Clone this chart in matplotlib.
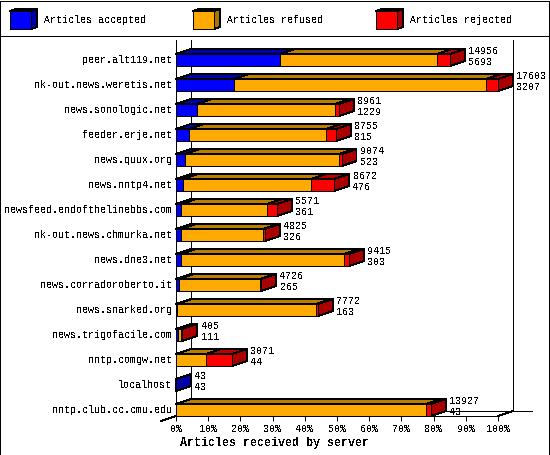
"""Articles received by server: stacked 3D-looking bars, innreport style."""

import matplotlib
matplotlib.use("Agg")
import matplotlib.pyplot as plt
from matplotlib.patches import Polygon, Rectangle

servers = ["peer.alt119.net", "nk-out.news.weretis.net", "news.sonologic.net",
           "feeder.erje.net", "news.quux.org", "news.nntp4.net",
           "newsfeed.endofthelinebbs.com", "nk-out.news.chmurka.net", "news.dne3.net",
           "news.corradoroberto.it", "news.snarked.org", "news.trigofacile.com",
           "nntp.comgw.net", "localhost", "nntp.club.cc.cmu.edu"]
# percentages
accepted = [32.3, 18.0, 6.6, 4.1, 2.7, 2.3, 1.7, 1.5, 1.5, 1.0, 0.4, 0.5, 0, 0.1, 0]
refused = [48.9, 78.2, 42.8, 42.5, 47.9, 39.6, 26.5, 25.6, 50.7, 25.0, 43.1, 1.4, 9.3, 0, 77.5]
rejected = [3.8, 3.8, 1.3, 3.1, 0.8, 7.3, 3.1, 0.4, 1.4, 0.5, 0.5, 0.1, 8.1, 0, 1.6]
total_labels = ["14956", "17603", "8961", "8755", "9074", "8672", "5571", "4825",
                "9415", "4726", "7772", "405", "3071", "43", "13927"]
second_labels = ["5693", "3207", "1229", "815", "523", "476", "361", "326",
                 "303", "265", "163", "111", "44", "43", "43"]
percent_ticks = [0, 10, 20, 30, 40, 50, 60, 70, 80, 90, 100]
legend_names = ["Articles accepted", "Articles refused", "Articles rejected"]

# front, top, side
BLUE = ("#0000ff", "#0000b4", "#0000aa")
ORANGE = ("#ffaa00", "#bb7f00", "#aa7400")
RED = ("#ff0000", "#bb0000", "#aa0000")

W, H = 550, 455
LW = 0.7
FS = 7.2
plt.rcParams["font.family"] = "Liberation Mono"
plt.rcParams["text.antialiased"] = False

fig = plt.figure(figsize=(W / 100, H / 100), dpi=100, facecolor="white")

# overlay in pixels, for the frame and the legend
# whole numbers here, the aliased lines snap onto single pixel rows that way
back = fig.add_axes([0, 0, 1, 1], zorder=5)
back.set_xlim(0, W)
back.set_ylim(H, 0)
back.axis("off")
back.patch.set_alpha(0)
back.add_patch(Rectangle((0, 1), W - 1, H - 1, fc="none", ec="black", lw=LW, antialiased=False))
back.plot([0, W], [36, 36], color="black", lw=LW, antialiased=False)

for x, name, cols in zip([10, 193, 376], legend_names, [BLUE, ORANGE, RED]):
    back.add_patch(Polygon([(x, 11), (x + 6, 9), (x + 27, 9), (x + 21, 11)],
                           fc=cols[1], ec="black", lw=LW, antialiased=False))
    back.add_patch(Polygon([(x + 21, 11), (x + 27, 9), (x + 27, 27), (x + 21, 29)],
                           fc=cols[2], ec="black", lw=LW, antialiased=False))
    back.add_patch(Rectangle((x, 11), 21, 18, fc=cols[0], ec="black", lw=LW, antialiased=False))
    back.text(x + 34, 20, name, fontsize=FS, va="center", ha="left")

# plot area: x is percent, y is the server index
left, right, top, bottom = 176, 498, 40, 416
ax = fig.add_axes([left / W, 1 - bottom / H, (right - left) / W, (bottom - top) / H], zorder=2)
ax.set_xlim(0, 100)
ax.set_ylim((bottom - 60) / 25, (top - 60) / 25)
ax.patch.set_alpha(0)

DX = 15 / 3.22
DY = 5 / 25
HALF = 6 / 25

ax.spines["top"].set_visible(False)
ax.spines["right"].set_visible(False)
for s in ("left", "bottom"):
    ax.spines[s].set_linewidth(LW)
    ax.spines[s].set_antialiased(False)

ax.set_xticks(percent_ticks)
ax.set_xticklabels([f"{p}%" for p in percent_ticks], fontsize=FS)
ax.set_yticks(range(len(servers)))
ax.set_yticklabels(servers, fontsize=FS, va="center")
ax.tick_params(axis="x", length=3.6, width=LW, pad=2)
ax.tick_params(axis="y", length=0, pad=3)
ax.set_xlabel("Articles received by server", fontsize=8.4, fontweight="bold", labelpad=2.5,
              x=(274 - left) / (right - left))

# walls and floor behind the bars
y_floor = ax.get_ylim()[0]
y_top = ax.get_ylim()[1]
wall = dict(color="black", lw=LW, clip_on=False, antialiased=False, zorder=1)
ax.plot([DX, DX], [y_floor - DY, y_top], **wall)
ax.plot([100 + DX, 100 + DX], [y_floor - DY, y_top], **wall)
ax.plot([DX, 100 + 34 / 3.22], [y_floor - DY, y_floor - DY], **wall)
ax.plot([100, 100 + DX], [y_floor, y_floor - DY], **wall)
ax.plot([-DX, 0], [y_floor + DY, y_floor], **wall)

for i in range(len(servers)):
    start = 0
    for value, cols in zip((accepted[i], refused[i], rejected[i]), (BLUE, ORANGE, RED)):
        if value == 0:
            continue
        end = start + value
        style = dict(ec="black", lw=LW, clip_on=False, antialiased=False, zorder=3)
        ax.add_patch(Polygon([(start, i - HALF), (start + DX, i - HALF - DY),
                              (end + DX, i - HALF - DY), (end, i - HALF)], fc=cols[1], **style))
        ax.add_patch(Polygon([(end, i - HALF), (end + DX, i - HALF - DY),
                              (end + DX, i + HALF - DY), (end, i + HALF)], fc=cols[2], **style))
        ax.add_patch(Rectangle((start, i - HALF), value, 2 * HALF, fc=cols[0], **style))
        start = end
    # the two numbers sit just past the end of the bar
    ax.text(start + 18.5 / 3.22, i - 9.3 / 25, total_labels[i], fontsize=FS, va="center", ha="left", zorder=4)
    ax.text(start + 18.5 / 3.22, i + 1.7 / 25, second_labels[i], fontsize=FS, va="center", ha="left", zorder=4)

fig.savefig("out.png", dpi=100)
